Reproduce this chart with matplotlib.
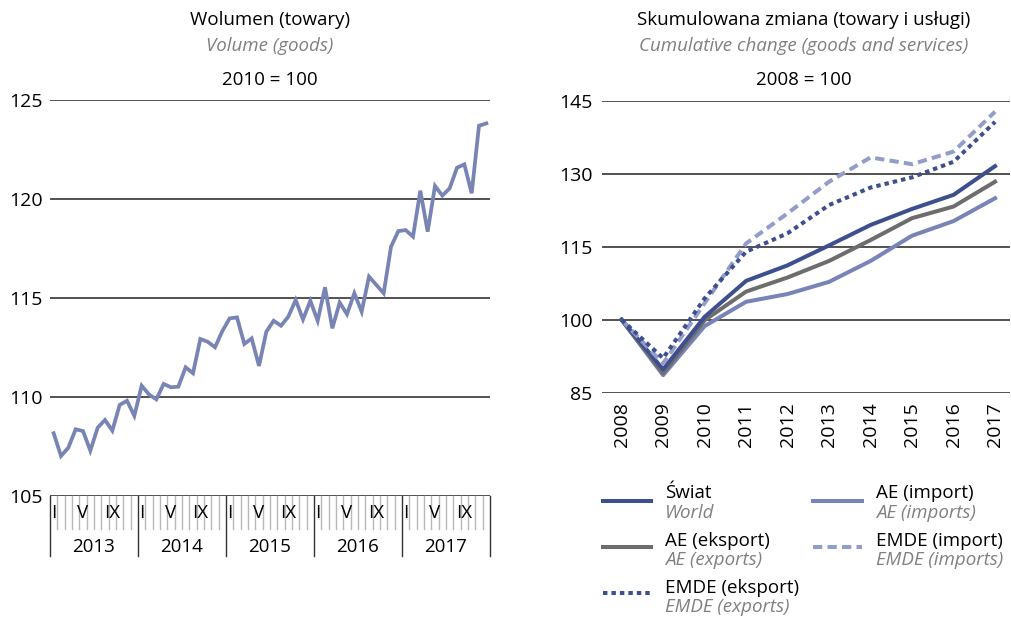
import matplotlib
matplotlib.use("Agg")
import matplotlib.pyplot as plt
from matplotlib.lines import Line2D

plt.rcParams['font.family'] = ['Open Sans', 'DejaVu Sans']

# ---------------- data ----------------
volume_years = ['2013', '2014', '2015', '2016', '2017']
month_labels = ['I', 'V', 'IX']
volume = [108.17, 107.02, 107.44, 108.37, 108.28, 107.29, 108.45, 108.84, 108.30, 109.60, 109.81, 109.05,
          110.57, 110.13, 109.88, 110.66, 110.49, 110.52, 111.50, 111.20, 112.93, 112.79, 112.51, 113.33,
          113.97, 114.02, 112.68, 112.96, 111.57, 113.30, 113.85, 113.60, 114.06, 114.90, 113.92, 114.86,
          113.85, 115.54, 113.47, 114.77, 114.18, 115.24, 114.31, 116.08, 115.66, 115.24, 117.59, 118.38,
          118.43, 118.10, 120.42, 118.35, 120.66, 120.17, 120.54, 121.58, 121.75, 120.29, 123.70, 123.82]

cum_years = ['2008', '2009', '2010', '2011', '2012', '2013', '2014', '2015', '2016', '2017']
world = [100, 89.8, 100.6, 108.0, 111.2, 115.3, 119.5, 122.8, 125.7, 131.6]
ae_exports = [100, 89.0, 99.9, 105.8, 108.7, 112.1, 116.4, 120.9, 123.3, 128.4]
ae_imports = [100, 88.6, 98.7, 103.7, 105.3, 107.8, 112.1, 117.3, 120.3, 125.0]
emde_exports = [100, 92.1, 104.4, 114.0, 117.8, 123.6, 127.2, 129.3, 132.5, 140.7]
emde_imports = [100, 91.0, 103.4, 115.7, 121.9, 128.4, 133.4, 132.0, 134.6, 142.8]

# ---------------- style ----------------
W, H = 1012, 617
C_WORLD = '#3d4f8e'
C_AEX = '#6d6d6d'
C_AIM = '#7884b6'
C_EEX = '#3d4f8e'
C_EIM = '#929dca'
C_VOL = '#7884b4'
GRID = '#222222'
EN_GRAY = '#808080'
FS = 13.5
TFS = 14

fig = plt.figure(figsize=(W / 100, H / 100), dpi=100)


def fx(x):
    return x / W


def fy(y):
    return 1 - y / H


# ---------------- left chart ----------------
ax1 = fig.add_axes([fx(50), fy(496), 440 / W, 396 / H])
n = len(volume)
ax1.plot(range(n), volume, color=C_VOL, lw=2.7, solid_joinstyle='miter')
ax1.set_xlim(-0.5, n - 0.5)
ax1.set_ylim(105, 125)
ax1.set_yticks([105, 110, 115, 120, 125])
ax1.yaxis.grid(True, color=GRID, lw=1.1)
ax1.set_axisbelow(True)
for s in ax1.spines.values():
    s.set_visible(False)
ax1.set_xticks([])
ax1.tick_params(axis='y', length=0, pad=5, labelsize=TFS)

tr = ax1.get_xaxis_transform()
mpx = 1 / 396
# month ticks
for m in range(1, n):
    if m % 12 != 0:
        ax1.plot([m - 0.5, m - 0.5], [0, -33 * mpx], transform=tr, color='#b8b8b8', lw=1.0, clip_on=False)
# year separators
for k in range(len(volume_years) + 1):
    xpos = k * 12 - 0.5
    ax1.plot([xpos, xpos], [0, -60 * mpx], transform=tr, color='#333333', lw=1.0, clip_on=False)
for k, yr in enumerate(volume_years):
    for j, lab in enumerate(month_labels):
        ax1.text(k * 12 + j * 4, -17 * mpx, lab, transform=tr, ha='center', va='center', fontsize=FS)
    ax1.text(k * 12 + 5.5, -51 * mpx, yr, transform=tr, ha='center', va='center', fontsize=FS)

fig.text(fx(270), fy(20), 'Wolumen (towary)', ha='center', va='center', fontsize=FS)
fig.text(fx(270), fy(46), 'Volume (goods)', ha='center', va='center', fontsize=FS, style='italic', color=EN_GRAY)
fig.text(fx(270), fy(80), '2010 = 100', ha='center', va='center', fontsize=FS)

# ---------------- right chart ----------------
ax2 = fig.add_axes([fx(601.7), fy(392.7), 408.3 / W, 291.7 / H])
x = range(len(cum_years))
lw = 2.9
ax2.plot(x, ae_imports, color=C_AIM, lw=lw)
ax2.plot(x, ae_exports, color=C_AEX, lw=lw)
ax2.plot(x, world, color=C_WORLD, lw=lw)
ax2.plot(x, emde_imports, color=C_EIM, lw=lw, ls=(0, (2.3, 1.3)))
ax2.plot(x, emde_exports, color=C_EEX, lw=lw, ls=(0, (1.1, 1.0)))
ax2.set_xlim(-0.48, 9.36)
ax2.set_ylim(85, 145)
ax2.set_yticks([85, 100, 115, 130, 145])
ax2.set_xticks(list(x))
ax2.set_xticklabels(cum_years, rotation=90, va='top', ha='center')
ax2.yaxis.grid(True, color=GRID, lw=1.1)
ax2.set_axisbelow(True)
for s in ax2.spines.values():
    s.set_visible(False)
ax2.tick_params(axis='y', length=0, pad=6.5, labelsize=TFS)
ax2.tick_params(axis='x', length=0, pad=7, labelsize=TFS)

fig.text(fx(804), fy(20), 'Skumulowana zmiana (towary i usługi)', ha='center', va='center', fontsize=FS)
fig.text(fx(804), fy(46), 'Cumulative change (goods and services)', ha='center', va='center', fontsize=FS,
         style='italic', color=EN_GRAY)
fig.text(fx(804), fy(80), '2008 = 100', ha='center', va='center', fontsize=FS)

# ---------------- legend ----------------
legend_items = [
    ('Świat', 'World', C_WORLD, '-', 0, 0),
    ('AE (eksport)', 'AE (exports)', C_AEX, '-', 0, 1),
    ('EMDE (eksport)', 'EMDE (exports)', C_EEX, (0, (1.1, 1.0)), 0, 2),
    ('AE (import)', 'AE (imports)', C_AIM, '-', 1, 0),
    ('EMDE (import)', 'EMDE (imports)', C_EIM, (0, (2.3, 1.3)), 1, 1),
]
col_handle = [(603, 651), (813, 862)]
col_text = [665, 876]
row_pl = [492.7, 540.7, 588]
row_en = [513, 560, 607]
row_h = [501, 547, 593]
for pl, en, c, ls, col, row in legend_items:
    x0, x1 = col_handle[col]
    fig.add_artist(Line2D([fx(x0), fx(x1)], [fy(row_h[row])] * 2, color=c, lw=lw, ls=ls,
                          transform=fig.transFigure))
    fig.text(fx(col_text[col]), fy(row_pl[row]), pl, ha='left', va='center', fontsize=FS)
    fig.text(fx(col_text[col]), fy(row_en[row]), en, ha='left', va='center', fontsize=FS,
             style='italic', color=EN_GRAY)

fig.savefig('out.png', dpi=100)
